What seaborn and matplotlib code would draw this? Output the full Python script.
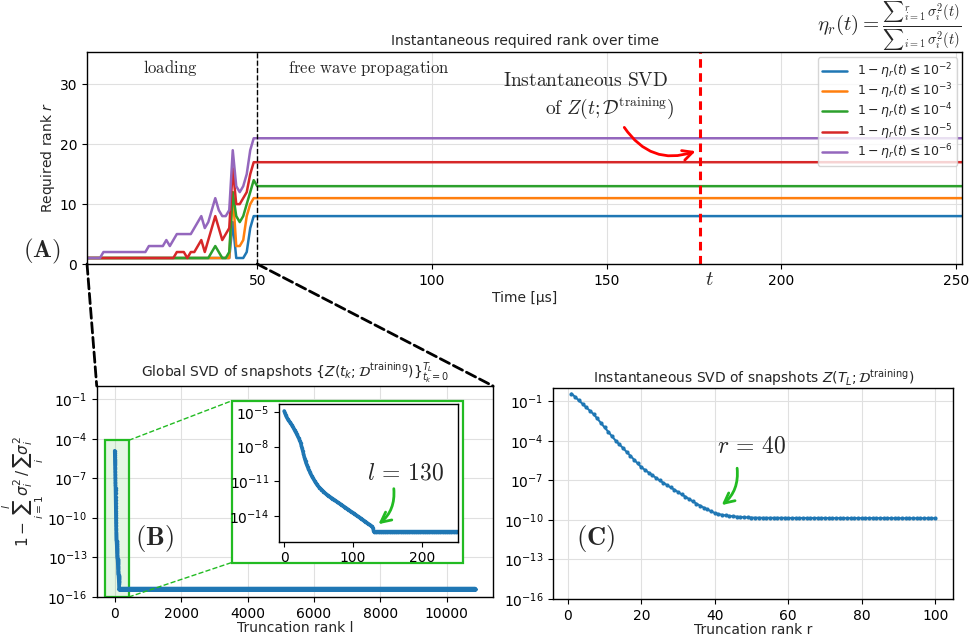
import numpy as np
import pandas as pd
import matplotlib
matplotlib.use("Agg")
import matplotlib.pyplot as plt
import matplotlib.transforms as mtransforms
import seaborn as sns
from matplotlib.patches import Rectangle, ConnectionPatch
from matplotlib.ticker import FixedLocator, LogFormatterSciNotation, NullLocator

# ---------------- data ----------------
time_us = list(range(1, 253))
tol_labels = [r"$1 - \eta_r(t) \leq 10^{-2}$", r"$1 - \eta_r(t) \leq 10^{-3}$",
              r"$1 - \eta_r(t) \leq 10^{-4}$", r"$1 - \eta_r(t) \leq 10^{-5}$",
              r"$1 - \eta_r(t) \leq 10^{-6}$"]
# required rank during loading phase (t = 1 .. 50 us)
rank_loading_1e2 = [1] * 42 + [7, 1, 1, 1, 2, 6, 8, 8]
rank_loading_1e3 = [1] * 42 + [12, 3, 3, 4, 8, 10, 11, 11]
rank_loading_1e4 = [1] * 36 + [2, 3, 2, 1, 1, 2, 12, 8, 7, 8, 10, 12, 14, 13]
rank_loading_1e5 = ([1] * 26 + [2, 2, 2, 1, 2, 2, 3, 4, 2, 4, 6, 8, 6, 4, 5, 6,
                                16, 10, 10, 11, 12, 15, 17, 17])
rank_loading_1e6 = ([1] * 5 + [2] * 13 + [3] * 5 +
                    [4, 3, 4, 5, 5, 5, 5, 5, 6, 7, 8, 6, 7, 9, 11, 9, 8, 8, 9,
                     19, 13, 12, 13, 15, 19, 21, 21])
# required rank during free wave propagation (t > 50 us)
rank_free = [8, 11, 13, 17, 21]
t_snapshot = 176.7

# global SVD: log10 of residual energy for l = 0 .. 130, then plateau
global_log_head = [
    -4.91, -5.10, -5.25, -5.38, -5.50, -5.60, -5.70, -5.78, -5.86, -5.93,
    -6.02, -6.12, -6.22, -6.33, -6.44, -6.55, -6.65, -6.77, -6.89, -7.01,
    -7.13, -7.26, -7.38, -7.52, -7.70, -7.92, -8.15, -8.38, -8.62, -8.86,
    -9.08, -9.27, -9.45, -9.61, -9.76, -9.90, -10.04, -10.17, -10.30, -10.42,
    -10.53, -10.64, -10.75, -10.85, -10.95, -11.05, -11.15, -11.24, -11.32, -11.40,
    -11.47, -11.54, -11.60, -11.66, -11.72, -11.78, -11.84, -11.90, -11.95, -12.01,
    -12.06, -12.11, -12.16, -12.20, -12.25, -12.29, -12.33, -12.37, -12.42, -12.46,
    -12.50, -12.54, -12.58, -12.62, -12.66, -12.70, -12.75, -12.79, -12.83, -12.87,
    -12.91, -12.95, -12.99, -13.03, -13.08, -13.12, -13.16, -13.20, -13.24, -13.28,
    -13.32, -13.37, -13.41, -13.45, -13.49, -13.53, -13.58, -13.62, -13.66, -13.70,
    -13.74, -13.78, -13.83, -13.87, -13.91, -13.95, -13.99, -14.04, -14.08, -14.12,
    -14.16, -14.21, -14.25, -14.29, -14.33, -14.38, -14.42, -14.46, -14.50, -14.55,
    -14.59, -14.63, -14.67, -14.71, -14.76, -14.80, -14.84, -14.89, -14.95, -15.05,
    -15.36]
global_plateau = 4.4e-16
global_n_modes = 10851

# instantaneous SVD at T_L: log10 of residual energy for r = 1 .. 100
inst_rank = list(range(1, 101))
inst_log = [
    -0.40, -0.66, -0.92, -1.18, -1.45, -1.70, -1.96, -2.29, -2.63, -2.97,
    -3.30, -3.64, -3.97, -4.25, -4.53, -4.83, -5.12, -5.41, -5.70, -5.99,
    -6.20, -6.40, -6.60, -6.80, -7.00, -7.18, -7.35, -7.53, -7.70, -7.88,
    -8.06, -8.23, -8.41, -8.58, -8.76, -8.91, -9.06, -9.20, -9.34, -9.47,
    -9.55, -9.61, -9.66, -9.69, -9.72, -9.75, -9.77, -9.79, -9.81, -9.82,
    -9.83, -9.83, -9.84, -9.84, -9.84, -9.84, -9.84, -9.84, -9.84, -9.85,
    -9.85, -9.85, -9.85, -9.85, -9.85, -9.85, -9.85, -9.85, -9.85, -9.85,
    -9.86, -9.86, -9.86, -9.86, -9.86, -9.86, -9.86, -9.86, -9.86, -9.86,
    -9.86, -9.86, -9.86, -9.86, -9.86, -9.86, -9.86, -9.86, -9.87, -9.87,
    -9.87, -9.87, -9.87, -9.87, -9.87, -9.87, -9.87, -9.87, -9.87, -9.87]

# ---------------- tables ----------------
loadings = [rank_loading_1e2, rank_loading_1e3, rank_loading_1e4,
            rank_loading_1e5, rank_loading_1e6]
n_free = len(time_us) - 50
rows = []
for lab, load, fin in zip(tol_labels, loadings, rank_free):
    series = load + [fin] * n_free
    for t, r in zip(time_us, series):
        rows.append((t, r, lab))
df_rank = pd.DataFrame(rows, columns=["time", "rank", "tol"])

global_vals = [10 ** v for v in global_log_head] + \
    [global_plateau] * (global_n_modes - len(global_log_head))
df_global = pd.DataFrame({"l": np.arange(global_n_modes), "res": global_vals})
df_inst = pd.DataFrame({"r": inst_rank, "res": [10 ** v for v in inst_log]})

# ---------------- style ----------------
sns.set_theme(style="ticks")
plt.rcParams.update({
    "font.family": ["DejaVu Sans"],
    "font.size": 10, "xtick.labelsize": 10, "ytick.labelsize": 10,
    "axes.labelsize": 10, "axes.titlesize": 10, "legend.fontsize": 9,
    "axes.edgecolor": "black", "xtick.color": "black", "ytick.color": "black",
    "axes.linewidth": 1.0,
    "xtick.major.size": 3.5, "ytick.major.size": 3.5,
    "xtick.major.width": 0.8, "ytick.major.width": 0.8,
    "xtick.major.pad": 3.5, "ytick.major.pad": 3.5,
})
GREEN = "#22bb22"
BLUE = "#1f77b4"
palette = sns.color_palette("tab10", 5)

fig = plt.figure(figsize=(9.8, 6.36), dpi=100)
axA = fig.add_axes([0.0888, 0.5849, 0.8929, 0.3333])
axB = fig.add_axes([0.0987, 0.0613, 0.4044, 0.3318])
axC = fig.add_axes([0.5646, 0.0582, 0.4082, 0.3313])

# ---------------- panel A ----------------
sns.lineplot(data=df_rank, x="time", y="rank", hue="tol", hue_order=tol_labels,
             palette=palette, lw=1.8, ax=axA, estimator=None)
axA.set_xlim(1.3, 251.7)
axA.set_ylim(0, 35.4)
axA.set_xticks([50, 100, 150, 200, 250])
axA.set_yticks([0, 10, 20, 30])
axA.grid(True, color="#e0e0e0", lw=0.8)
axA.set_axisbelow(True)
axA.set_xlabel("Time [μs]", labelpad=2)
axA.set_ylabel("Required rank $r$", labelpad=2)
axA.set_title("Instantaneous required rank over time", pad=5)
axA.axvline(50, color="black", ls="--", lw=1.0)
axA.axvline(t_snapshot, color="red", ls=(0, (2.8, 1.8)), lw=2.2)
trans_xa = mtransforms.blended_transform_factory(axA.transData, axA.transAxes)
axA.text(t_snapshot + 2.6, -0.072, "$t$", transform=trans_xa,
         math_fontfamily="cm", fontsize=15, ha="center", va="center")
handles, labels = axA.get_legend_handles_labels()
axA.legend(handles, labels, loc="upper right", fontsize=9, framealpha=0.8,
           labelspacing=0.05, borderpad=0.35, borderaxespad=0.4)

axA.text(25, 32.7, r"$\mathrm{loading}$", math_fontfamily="cm", fontsize=12,
         ha="center", va="center")
axA.text(82, 32.7, r"$\mathrm{free\ wave\ propagation}$", math_fontfamily="cm",
         fontsize=12, ha="center", va="center")
axA.text(144.1, 30.7, r"$\mathrm{Instantaneous\ SVD}$", math_fontfamily="cm",
         fontsize=14, ha="center", va="center")
axA.text(150.9, 26.0, r"$\mathrm{of}\ Z(t;\mathcal{D}^{\mathrm{training}})$",
         math_fontfamily="cm", fontsize=14, ha="center", va="center")
axA.annotate("", xy=(t_snapshot - 0.5, 19.0), xytext=(154.6, 23.2),
             arrowprops=dict(arrowstyle="->", color="red", lw=2,
                             mutation_scale=18,
                             connectionstyle="arc3,rad=0.4"))

fig.text(0.907, 0.958,
         r"$\eta_r(t) = \frac{{\sum}_{i=1}^{r}\,\sigma_i^2(t)}{{\sum}_{i=1}\,\sigma_i^2(t)}$",
         math_fontfamily="cm", fontsize=15, ha="center", va="center")
fig.text(0.043, 0.604, r"$\mathbf{(A)}$", math_fontfamily="cm", fontsize=18,
         ha="center", va="center")

# ---------------- panel B ----------------
log_ticks = [1e-16, 1e-13, 1e-10, 1e-7, 1e-4, 1e-1]
axB.set_yscale("log")
sns.lineplot(data=df_global, x="l", y="res", color=BLUE, lw=2.6, marker=".",
             markersize=5, markeredgewidth=0, ax=axB, estimator=None)
axB.set_ylim(1e-16, 1)
axB.set_xlim(-542, 11392)
axB.yaxis.set_major_locator(FixedLocator(log_ticks))
axB.yaxis.set_major_formatter(LogFormatterSciNotation())
axB.yaxis.set_minor_locator(NullLocator())
axB.set_xticks([0, 2000, 4000, 6000, 8000, 10000])
axB.grid(True, color="#e0e0e0", lw=0.8)
axB.set_axisbelow(True)
axB.set_xlabel("Truncation rank l", labelpad=0)
axB.set_ylabel(r"$1 - \sum_{i=1}^{l}\sigma_i^2\,/\,\sum_{i}\sigma_i^2$",
               fontsize=11, labelpad=1)
axB.set_title(r"Global SVD of snapshots $\{Z(t_k;\mathcal{D}^{\mathrm{training}})\}_{t_k=0}^{T_L}$",
              pad=4)

axB.add_patch(Rectangle((-280, 1e-16), 701, 10 ** -4.12 - 1e-16,
                        facecolor=(0.13, 0.73, 0.13, 0.12), edgecolor=GREEN,
                        lw=1.6, zorder=1.5))
axB.add_patch(Rectangle((3517, 10 ** -13.39), 6979, 10 ** -1.13 - 10 ** -13.39,
                        facecolor="white", edgecolor=GREEN, lw=1.6, zorder=4))
axB.plot([421, 3517], [10 ** -4.12, 10 ** -1.13], ls="--", color=GREEN, lw=1.0)
axB.plot([421, 3517], [1e-16, 10 ** -13.39], ls="--", color=GREEN, lw=1.0)
fig.text(0.157, 0.1536, r"$\mathbf{(B)}$", math_fontfamily="cm", fontsize=19,
         ha="center", va="center")

# inset
axI = fig.add_axes([0.2844, 0.1483, 0.1833, 0.216])
axI.set_zorder(5)
axI.set_yscale("log")
sns.lineplot(data=df_global.iloc[:400], x="l", y="res", color=BLUE, lw=2.6,
             marker=".", markersize=5, markeredgewidth=0, ax=axI, estimator=None)
axI.set_xlim(-8, 253)
axI.set_ylim(10 ** -16.23, 10 ** -4.33)
axI.yaxis.set_major_locator(FixedLocator([1e-14, 1e-11, 1e-8, 1e-5]))
axI.yaxis.set_major_formatter(LogFormatterSciNotation())
axI.yaxis.set_minor_locator(NullLocator())
axI.set_xticks([0, 100, 200])
axI.set_xlabel("")
axI.set_ylabel("")
axI.text(175.8, 10 ** -10.28, r"$l\,=\,130$", math_fontfamily="cm", fontsize=17,
         ha="center", va="center")
axI.annotate("", xy=(133.7, 10 ** -14.86), xytext=(158.8, 10 ** -11.4),
             arrowprops=dict(arrowstyle="->", color=GREEN, lw=2,
                             mutation_scale=18,
                             connectionstyle="arc3,rad=-0.3"))

# ---------------- panel C ----------------
axC.set_yscale("log")
sns.lineplot(data=df_inst, x="r", y="res", color=BLUE, lw=1.5, marker=".",
             markersize=6, markeredgewidth=0, ax=axC, estimator=None)
axC.set_ylim(1e-16, 1)
axC.yaxis.set_major_locator(FixedLocator(log_ticks))
axC.yaxis.set_major_formatter(LogFormatterSciNotation())
axC.yaxis.set_minor_locator(NullLocator())
axC.set_xticks([0, 20, 40, 60, 80, 100])
axC.grid(True, color="#e0e0e0", lw=0.8)
axC.set_axisbelow(True)
axC.set_xlabel("Truncation rank r", labelpad=0)
axC.set_ylabel("")
axC.set_title(r"Instantaneous SVD of snapshots $Z(T_L;\mathcal{D}^{\mathrm{training}})$",
              pad=4)
axC.text(50.1, 10 ** -4.35, r"$r\,=\,40$", math_fontfamily="cm", fontsize=17,
         ha="center", va="center")
axC.annotate("", xy=(41.3, 10 ** -9.0), xytext=(46.0, 10 ** -5.86),
             arrowprops=dict(arrowstyle="->", color=GREEN, lw=2,
                             mutation_scale=18,
                             connectionstyle="arc3,rad=-0.3"))
fig.text(0.608, 0.1536, r"$\mathbf{(C)}$", math_fontfamily="cm", fontsize=19,
         ha="center", va="center")

# ---------------- connectors ----------------
for xa, xb in [(axA.get_xlim()[0], 0), (50, 1)]:
    con = ConnectionPatch(xyA=(xa, 0), coordsA=axA.transData,
                          xyB=(xb, 1), coordsB=axB.transAxes,
                          ls="--", lw=2, color="black")
    fig.add_artist(con)

fig.savefig("out.png", dpi=100)
